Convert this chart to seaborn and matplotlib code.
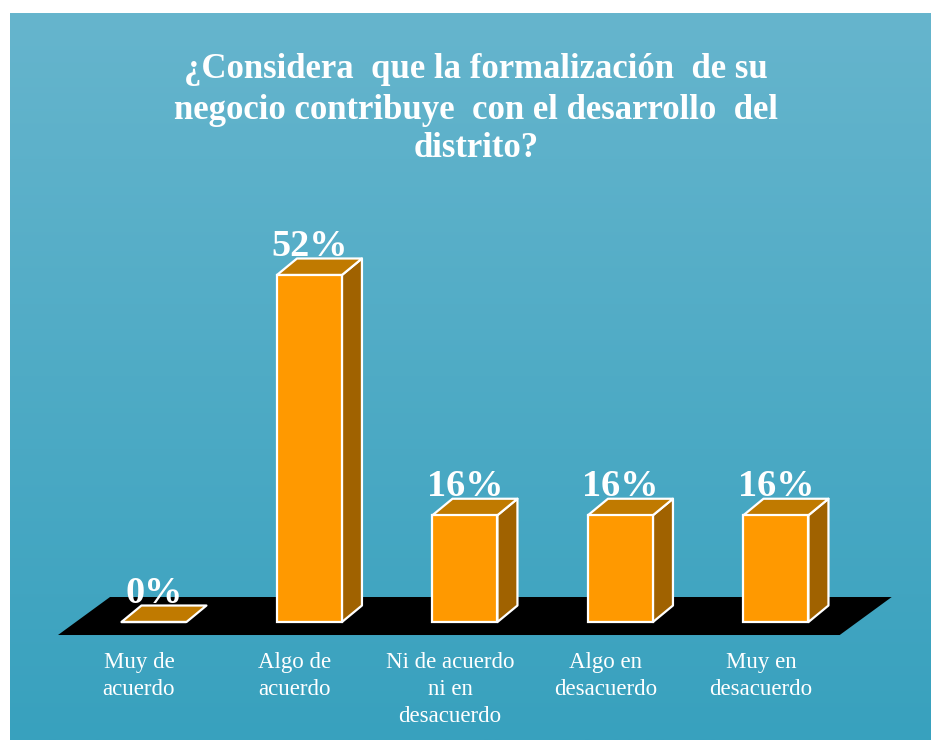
import numpy as np
import pandas as pd
import matplotlib
matplotlib.use("Agg")
import matplotlib.pyplot as plt
from matplotlib.patches import Polygon
import seaborn as sns

categories = ["Muy de\nacuerdo", "Algo de\nacuerdo", "Ni de acuerdo\nni en\ndesacuerdo",
              "Algo en\ndesacuerdo", "Muy en\ndesacuerdo"]
values = [0, 52, 16, 16, 16]
value_labels = ["0%", "52%", "16%", "16%", "16%"]
title_lines = ["¿Considera  que la formalización  de su",
               "negocio contribuye  con el desarrollo  del",
               "distrito?"]

sns.set_theme(style="white")
plt.rcParams['font.family'] = ['Liberation Serif', 'DejaVu Serif']

W, H = 931, 740
fig = plt.figure(figsize=(W / 100, H / 100), dpi=100)
fig.patch.set_facecolor("white")

# gradient background panel
bg = fig.add_axes([10 / W, 0, (W - 10) / W, (H - 13) / H])
top_c = np.array([0x66, 0xB5, 0xCD]) / 255
bot_c = np.array([0x38, 0xA1, 0xBE]) / 255
t = np.linspace(0, 1, 256)[:, None]
grad = (top_c[None, :] * (1 - t) + bot_c[None, :] * t)[:, None, :]
bg.imshow(grad, aspect="auto", extent=[0, 1, 0, 1])
bg.set_axis_off()

ax = fig.add_axes([0, 0, 1, 1])
ax.patch.set_alpha(0)

df = pd.DataFrame({"cat": categories, "val": values})
sns.barplot(data=df, x="cat", y="val", order=categories, color="#FF9900", saturation=1,
            width=0.418, edgecolor="white", linewidth=1.6, ax=ax, zorder=4)
ax.set_xlim(-0.990, 4.997)
ax.set_ylim(-17.68, 93.21)
ax.set_axis_off()

# pixel->data scale
pxx = ax.bbox.width / (ax.get_xlim()[1] - ax.get_xlim()[0])
pxy = ax.bbox.height / (ax.get_ylim()[1] - ax.get_ylim()[0])
ddx = 20 / pxx
ddy = 16.5 / pxy

# floor
n = len(categories)
fx0, fx1 = -0.617, n - 1 + 0.41
fy0 = -13 / pxy
fdx, fdy = 52 / pxx, 38 / pxy
floor = Polygon([[fx0, fy0], [fx1, fy0], [fx1 + fdx, fy0 + fdy], [fx0 + fdx, fy0 + fdy]],
                closed=True, facecolor="black", edgecolor="none", zorder=1)
ax.add_patch(floor)

side_c = "#A06200"
topf_c = "#C07A00"
for p, lab in zip(ax.patches[:n], value_labels):
    x0 = p.get_x()
    w = p.get_width()
    h = p.get_height()
    x1 = x0 + w
    side = Polygon([[x1, 0], [x1 + ddx, ddy], [x1 + ddx, h + ddy], [x1, h]], closed=True,
                   facecolor=side_c, edgecolor="white", linewidth=1.6, joinstyle="round", zorder=3)
    topf = Polygon([[x0, h], [x1, h], [x1 + ddx, h + ddy], [x0 + ddx, h + ddy]], closed=True,
                   facecolor=topf_c, edgecolor="white", linewidth=1.6, joinstyle="round", zorder=3)
    if h > 0:
        ax.add_patch(side)
    ax.add_patch(topf)
    ax.text(x0 + w / 2, h + ddy + 3 / pxy, lab, ha="center", va="baseline",
            fontsize=27.5, fontweight="bold", color="white", zorder=6)

for i, c in enumerate(categories):
    ax.text(i - 15 / pxx, -30 / pxy, c, ha="center", va="top", fontsize=16.5,
            color="white", linespacing=1.38, zorder=6)

for line, base in zip(title_lines, [78, 119, 157]):
    fig.text(476 / W, 1 - base / H, line, ha="center", va="baseline", fontsize=25,
             fontweight="bold", color="white")

fig.savefig("out.png", dpi=100, facecolor=fig.get_facecolor())
